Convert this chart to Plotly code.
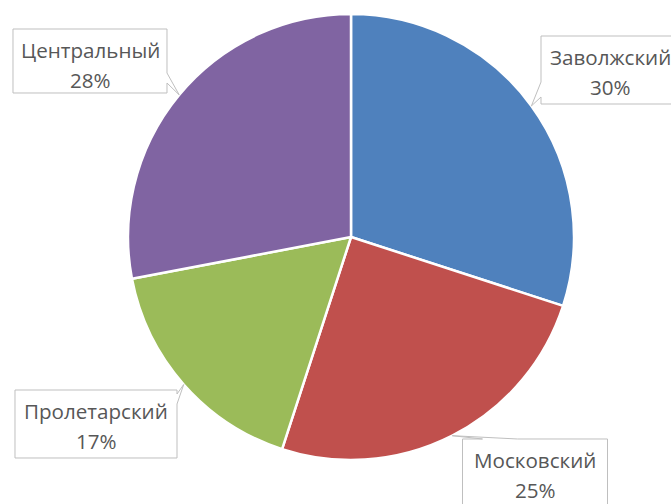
import math
import plotly.graph_objects as go

# District shares
districts = ["Заволжский", "Московский", "Пролетарский", "Центральный"]
shares = [30, 25, 17, 28]
colors = ["#4F81BD", "#C0504D", "#9BBB59", "#8064A2"]

W, H = 671, 504
CX, CY, R = 351, 237, 223          # pie centre and radius in pixels

# Callout boxes: centre x, top, bottom, width, side carrying the pointer,
# and the two points where the pointer leaves that side (offsets along it)
callouts = {
    "Заволжский":   dict(cx=610, top=36,  bottom=104, w=138, side="left",  b=(46, 61)),
    "Московский":   dict(cx=535, top=439, bottom=508, w=145, side="top",   b=(20, 55)),
    "Пролетарский": dict(cx=96,  top=390, bottom=458, w=162, side="right", b=(4, 14)),
    "Центральный":  dict(cx=90,  top=29,  bottom=93,  w=154, side="right", b=(44, 54)),
}

TEXT = "#575757"
BORDER = "#BFBFBF"
FONT = "Open Sans"
FS = 20.6


def px(x):
    return x / W


def py(y):
    return 1 - y / H


fig = go.Figure(
    go.Pie(
        labels=districts,
        values=shares,
        sort=False,
        direction="clockwise",
        rotation=0,
        marker=dict(colors=colors, line=dict(color="white", width=2.5)),
        textinfo="none",
        hoverinfo="label+percent",
        showlegend=False,
        domain=dict(x=[px(CX - R), px(CX + R)], y=[py(CY + R), py(CY - R)]),
    )
)

total = sum(shares)
start = 0.0
shapes = []
annotations = []
for name, v in zip(districts, shares):
    mid = start + v / 2
    start += v
    ang = math.radians(90 - mid / total * 360)
    tx, ty = CX + R * math.cos(ang), CY - R * math.sin(ang)

    c = callouts[name]
    x0, x1 = c["cx"] - c["w"] / 2, c["cx"] + c["w"] / 2
    y0, y1 = c["top"], c["bottom"]
    b1, b2 = c["b"]
    if c["side"] == "right":
        pts = [(x0, y0), (x1, y0), (x1, y0 + b1), (tx, ty), (x1, y0 + b2), (x1, y1), (x0, y1)]
    elif c["side"] == "left":
        pts = [(x0, y0), (x1, y0), (x1, y1), (x0, y1), (x0, y0 + b2), (tx, ty), (x0, y0 + b1)]
    else:  # top
        pts = [(x0, y0), (x0 + b1, y0), (tx, ty), (x0 + b2, y0), (x1, y0), (x1, y1), (x0, y1)]
    path = "M " + " L ".join(f"{px(a):.5f},{py(b):.5f}" for a, b in pts) + " Z"
    shapes.append(dict(type="path", xref="paper", yref="paper", path=path,
                       fillcolor="white", line=dict(color=BORDER, width=1)))

    annotations.append(dict(x=px(c["cx"]), y=py(y0 + 21), xref="paper", yref="paper",
                            text=name, showarrow=False, xanchor="center", yanchor="middle",
                            font=dict(family=FONT, size=FS, color=TEXT)))
    annotations.append(dict(x=px(c["cx"]), y=py(y0 + 51), xref="paper", yref="paper",
                            text=f"{v / total * 100:.0f}%", showarrow=False,
                            xanchor="center", yanchor="middle",
                            font=dict(family=FONT, size=FS, color=TEXT)))

fig.update_layout(
    width=W,
    height=H,
    margin=dict(l=0, r=0, t=0, b=0),
    paper_bgcolor="white",
    plot_bgcolor="white",
    shapes=shapes,
    annotations=annotations,
)

fig.write_html("out.html")
